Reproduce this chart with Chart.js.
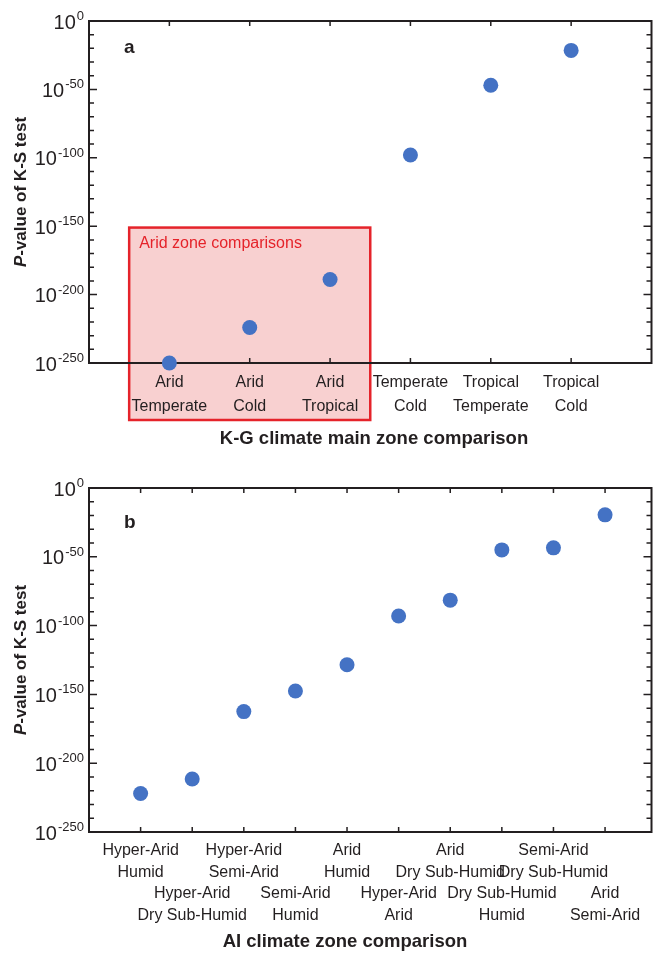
<!DOCTYPE html>
<html>
<head>
<meta charset="utf-8">
<script src="https://cdn.jsdelivr.net/npm/chart.js@4.4.0/dist/chart.umd.min.js"></script>
<style>
  html, body { margin: 0; padding: 0; background: #fff; overflow: hidden; }
  canvas { display: block; }
</style>
</head>
<body>
<!-- canvases are a few px wider than the window: Chart.js keeps point-radius padding on the right -->
<canvas id="chartA" width="659" height="460"></canvas>
<canvas id="chartB" width="659" height="500"></canvas>
<script>
// data (y values are log10 of the P-value)
const kgLabels = [
  ['Arid', 'Temperate'], ['Arid', 'Cold'], ['Arid', 'Tropical'],
  ['Temperate', 'Cold'], ['Tropical', 'Temperate'], ['Tropical', 'Cold']
];
const kgLogP = [-250, -224, -189, -98, -47, -21.5];

const aiLabels = [
  ['Hyper-Arid', 'Humid'], ['Hyper-Arid', 'Dry Sub-Humid'], ['Hyper-Arid', 'Semi-Arid'],
  ['Semi-Arid', 'Humid'], ['Arid', 'Humid'], ['Hyper-Arid', 'Arid'],
  ['Arid', 'Dry Sub-Humid'], ['Dry Sub-Humid', 'Humid'], ['Semi-Arid', 'Dry Sub-Humid'],
  ['Arid', 'Semi-Arid']
];
const aiLogP = [-222, -211.5, -162.5, -147.5, -128.5, -93, -81.5, -45, -43.5, -19.5];

const yTicks = [0, -50, -100, -150, -200, -250];
const yMinorStep = 10;

const FONT = 'Arial, "Liberation Sans", sans-serif';
const INK = '#231f20';
const DOT = '#4472c4';
const RED = '#e5232a';

// box, ticks, superscript labels and titles
const frame = {
  id: 'frame',
  beforeDraw(chart, args, opts) {
    const { ctx, chartArea: { bottom }, scales: { x, y } } = chart;
    if (!opts.box) return;
    const b = opts.box;
    const x0 = x.getPixelForValue(b.from);
    const x1 = x.getPixelForValue(b.to);
    const y0 = y.getPixelForValue(b.top);
    const y1 = bottom + b.below;
    ctx.save();
    ctx.fillStyle = 'rgba(236,120,120,0.35)';
    ctx.fillRect(x0, y0, x1 - x0, y1 - y0);
    ctx.strokeStyle = RED;
    ctx.lineWidth = 2.5;
    ctx.strokeRect(x0, y0, x1 - x0, y1 - y0);
    ctx.fillStyle = RED;
    ctx.font = '16px ' + FONT;
    ctx.textBaseline = 'middle';
    ctx.fillText(b.text, x0 + 10, y0 + 16);
    ctx.restore();
  },
  beforeDatasetsDraw(chart, args, opts) {
    const { ctx, chartArea: { left, right, top, bottom }, scales: { x, y } } = chart;
    ctx.save();
    ctx.strokeStyle = INK;
    ctx.lineWidth = 2;
    ctx.strokeRect(left, top, right - left, bottom - top);

    ctx.lineWidth = 1.5;
    ctx.beginPath();
    for (let v = y.min; v <= y.max; v += yMinorStep) {
      const py = y.getPixelForValue(v);
      const len = v % 50 === 0 ? 8 : 5;
      ctx.moveTo(left, py); ctx.lineTo(left + len, py);
      ctx.moveTo(right, py); ctx.lineTo(right - len, py);
    }
    x.ticks.forEach(t => {
      const px = x.getPixelForValue(t.value);
      ctx.moveTo(px, bottom); ctx.lineTo(px, bottom - 5);
      ctx.moveTo(px, top); ctx.lineTo(px, top + 5);
    });
    ctx.stroke();

    // y tick labels: 10 with superscript exponent
    ctx.fillStyle = INK;
    ctx.textAlign = 'right';
    yTicks.forEach(v => {
      const py = y.getPixelForValue(v);
      const sup = String(v);
      ctx.font = '13px ' + FONT;
      ctx.textBaseline = 'alphabetic';
      ctx.fillText(sup, left - 5, py - 1);
      const w = ctx.measureText(sup).width;
      ctx.font = '20px ' + FONT;
      ctx.textBaseline = 'middle';
      ctx.fillText('10', left - 6 - w, py + 2);
    });

    // y title with italic P
    ctx.save();
    ctx.translate(opts.yTitleX, (top + bottom) / 2);
    ctx.rotate(-Math.PI / 2);
    ctx.textAlign = 'left';
    ctx.textBaseline = 'middle';
    ctx.font = 'italic bold 17px ' + FONT;
    const wp = ctx.measureText('P').width;
    ctx.font = 'bold 17px ' + FONT;
    const rest = '-value of K-S test';
    const wr = ctx.measureText(rest).width;
    const sx = -(wp + wr) / 2;
    ctx.font = 'italic bold 17px ' + FONT;
    ctx.fillText('P', sx, 0);
    ctx.font = 'bold 17px ' + FONT;
    ctx.fillText(rest, sx + wp, 0);
    ctx.restore();

    // x title
    ctx.textAlign = 'center';
    ctx.textBaseline = 'middle';
    ctx.font = 'bold 18.5px ' + FONT;
    ctx.fillText(opts.xTitle, opts.xTitleX, opts.xTitleY);

    // panel letter
    ctx.textAlign = 'left';
    ctx.textBaseline = 'alphabetic';
    ctx.font = 'bold 19px ' + FONT;
    ctx.fillText(opts.letter, left + 35, top + opts.letterDy);
    ctx.restore();
  }
};

function makeChart(id, labels, values, cfg) {
  return new Chart(document.getElementById(id), {
    type: 'scatter',
    data: {
      datasets: [{
        data: values.map((v, i) => ({ x: i + 1, y: v })),
        backgroundColor: DOT,
        borderWidth: 0,
        pointRadius: 7.5,
        pointHoverRadius: 7.5,
        clip: false
      }]
    },
    options: {
      responsive: false,
      animation: false,
      layout: { padding: { left: 0, right: 0, top: cfg.padTop, bottom: 0 } },
      plugins: {
        legend: { display: false },
        tooltip: { enabled: false },
        frame: cfg.frame
      },
      scales: {
        x: {
          type: 'linear',
          min: 0,
          max: cfg.xMax,
          grid: { display: false },
          border: { display: false },
          afterBuildTicks: s => { s.ticks = labels.map((_, i) => ({ value: i + 1 })); },
          afterFit: s => { s.height = cfg.xHeight; s.paddingLeft = 0; s.paddingRight = 0; },
          ticks: {
            autoSkip: false,
            maxRotation: 0,
            minRotation: 0,
            padding: cfg.labelPad,
            color: INK,
            font: { family: FONT, size: 16, lineHeight: cfg.lineHeight },
            callback: (v, i) => cfg.stagger && i % 2 ? ['', ''].concat(labels[i]) : labels[i]
          }
        },
        y: {
          type: 'linear',
          min: -250,
          max: 0,
          grid: { display: false },
          border: { display: false },
          ticks: { display: false },
          afterFit: s => { s.width = 89; s.paddingTop = 0; s.paddingBottom = 0; }
        }
      }
    },
    plugins: [frame]
  });
}

makeChart('chartA', kgLabels, kgLogP, {
  padTop: 21, xMax: 7, xHeight: 97, labelPad: 0, lineHeight: '24px', stagger: false,
  frame: {
    box: { from: 0.5, to: 3.5, top: -151, below: 57, text: 'Arid zone comparisons' },
    yTitleX: 21, xTitle: 'K-G climate main zone comparison', xTitleX: 374, xTitleY: 439,
    letter: 'a', letterDy: 32
  }
});

makeChart('chartB', aiLabels, aiLogP, {
  padTop: 28, xMax: 10.9, xHeight: 128, labelPad: 0, lineHeight: '21.5px', stagger: true,
  frame: {
    yTitleX: 21, xTitle: 'AI climate zone comparison', xTitleX: 345, xTitleY: 482,
    letter: 'b', letterDy: 40
  }
});
</script>
</body>
</html>
